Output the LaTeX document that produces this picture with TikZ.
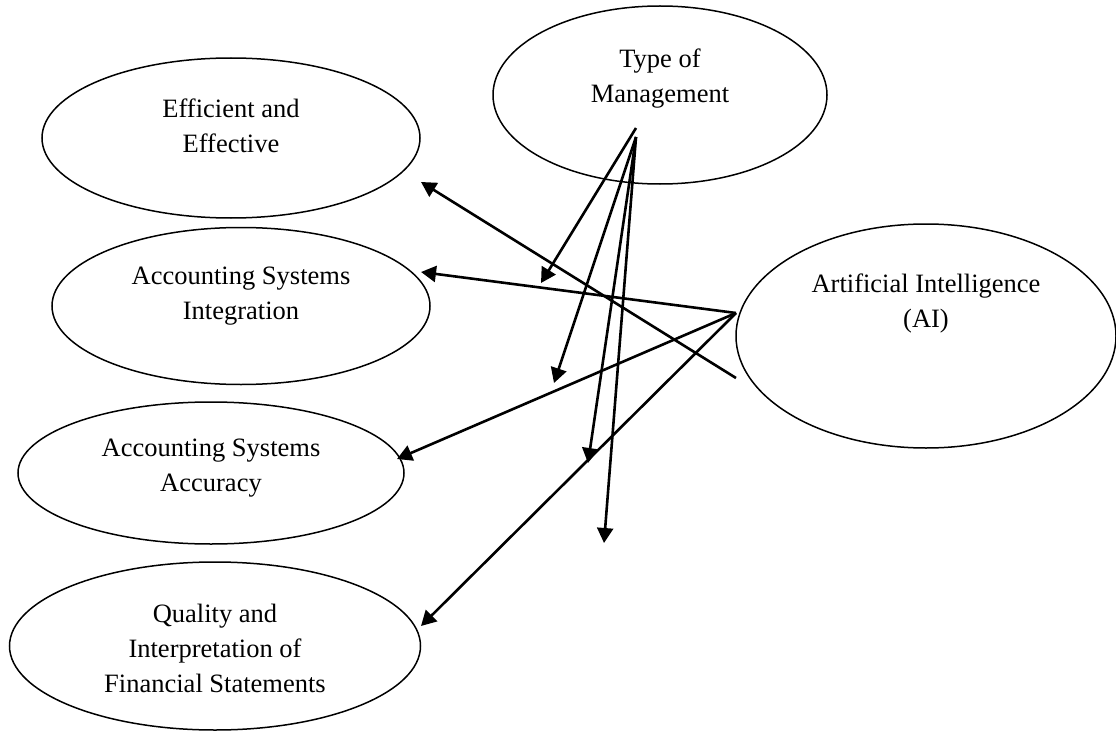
\documentclass[tikz,border=0pt]{standalone}
\usepackage{fontspec}
\setmainfont{Liberation Serif}
\usepackage{tikz}
\usetikzlibrary{positioning,shapes.geometric,arrows.meta}

\tikzset{
  bubble/.style={draw, ellipse, line width=1.5pt, inner sep=0pt},
  caption/.style={align=center, font=\fontsize{26.5}{35}\selectfont},
  link/.style={line width=2.6pt, -{Triangle[length=15pt,width=16pt]}}
}

\begin{document}
\begin{tikzpicture}[x=1pt,y=-1pt]
	\useasboundingbox (0,0) rectangle (1116,733);
	% outcome ellipses on the left
	\node[bubble, minimum width=378pt, minimum height=160pt] (eff) at (231,138) {};
	\node[bubble, minimum width=378pt, minimum height=157pt] (integ) at (241,306) {};
	\node[bubble, minimum width=386pt, minimum height=142pt] (accur) at (211,473) {};
	\node[bubble, minimum width=411pt, minimum height=168pt] (qual) at (215,646) {};
	% the two sources
	\node[bubble, minimum width=334pt, minimum height=178pt] (mgmt) at (660,95) {};
	\node[bubble, minimum width=380pt, minimum height=224pt] (ai) at (926,336) {};
	% texts
	\node[caption] (effT) at (231,126) {Efficient and\\Effective};
	\node[caption] (integT) at (241,296) {Accounting Systems\\Integration};
	\node[caption] (accurT) at (211,468) {Accounting Systems\\Accuracy};
	\node[caption] (qualT) at (215,648) {Quality and\\Interpretation of\\Financial Statements};
	\node[caption] (mgmtT) at (660,79) {Type of\\Management};
	\node[caption] (aiT) at (926,303) {Artificial Intelligence\\(AI)};
	% arrow ends
	\coordinate (mgmtA) at (636,128);
	\coordinate (mgmtB) at (636,137);
	\coordinate (aiA) at (736,313);
	\coordinate (aiB) at (736,378);
	\coordinate (tipA) at (541,283);
	\coordinate (tipB) at (554,383);
	\coordinate (tipC) at (588,463);
	\coordinate (tipD) at (604,543);
	\coordinate (effIn) at (421,182);
	\coordinate (integIn) at (421,272);
	\coordinate (accurIn) at (397,459);
	\coordinate (qualIn) at (421,626);
	% arrows from type of management
	\draw[link] (mgmtA) -- (tipA);
	\draw[link] (mgmtB) -- (tipB);
	\draw[link] (mgmtB) -- (tipC);
	\draw[link] (mgmtB) -- (tipD);
	% arrows from AI
	\draw[link] (aiB) -- (effIn);
	\draw[link] (aiA) -- (integIn);
	\draw[link] (aiA) -- (accurIn);
	\draw[link] (aiA) -- (qualIn);
\end{tikzpicture}
\end{document}
